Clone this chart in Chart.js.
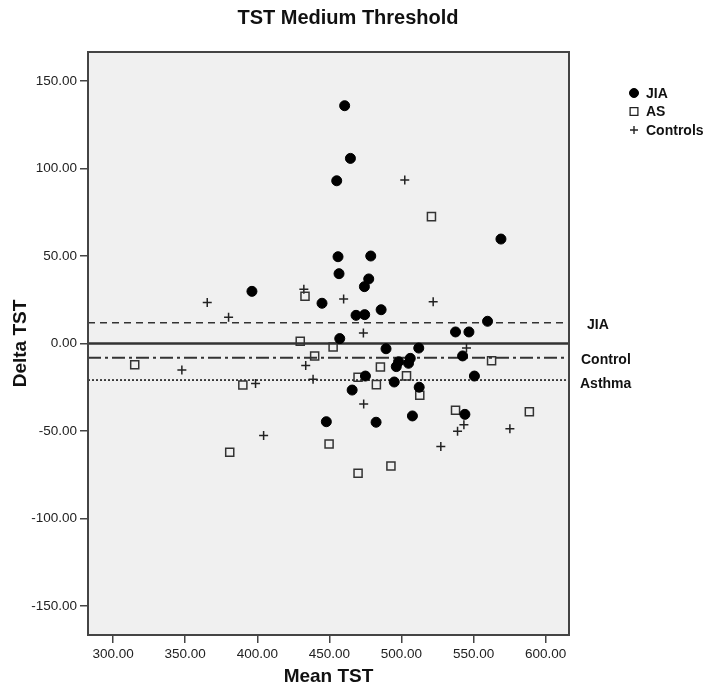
<!DOCTYPE html>
<html>
<head>
<meta charset="utf-8">
<title>TST Medium Threshold</title>
<script src="https://cdn.jsdelivr.net/npm/chart.js@4/dist/chart.umd.min.js"></script>
<style>
  html, body { margin: 0; padding: 0; background: #fff; }
  #wrap { width: 713px; height: 692px; }
</style>
</head>
<body>
<div id="wrap"><canvas id="chart" width="713" height="692"></canvas></div>
<script>
// values: [mean TST, delta TST]
const jiaPoints = [
  [460.6, 135.9], [464.6, 105.8], [455.1, 93.0], [569.0, 59.7], [456.0, 49.6],
  [478.7, 50.0], [456.7, 39.9], [477.3, 36.9], [474.3, 32.5], [396.3, 29.8],
  [444.9, 23.0], [485.9, 19.3], [468.5, 16.1], [474.5, 16.5], [559.7, 12.7],
  [537.5, 6.6], [546.8, 6.6], [457.2, 2.8], [489.3, -3.0], [512.0, -2.6],
  [542.4, -7.1], [498.0, -10.4], [506.1, -8.5], [504.9, -11.3], [496.4, -13.2],
  [475.0, -18.6], [550.6, -18.6], [495.0, -22.0], [465.8, -26.6], [512.3, -25.0],
  [544.0, -40.5], [507.6, -41.4], [447.9, -44.7], [482.4, -45.0]
];
const asPoints = [
  [520.8, 72.5], [433.1, 27.0], [429.8, 1.3], [452.6, -2.0], [439.8, -7.1],
  [562.5, -9.9], [315.0, -12.1], [485.4, -13.4], [469.9, -19.3], [503.5, -18.5],
  [390.0, -23.7], [482.6, -23.5], [512.7, -29.6], [537.5, -38.2], [588.7, -39.0],
  [449.8, -57.4], [380.9, -62.2], [492.7, -70.0], [469.9, -74.2]
];
const controlPoints = [
  [502.3, 93.4], [432.3, 31.0], [459.9, 25.4], [522.0, 23.9], [365.3, 23.5],
  [380.1, 15.0], [473.6, 6.0], [545.1, -2.6], [433.6, -12.6], [347.7, -15.1],
  [438.7, -20.5], [398.8, -22.8], [473.8, -34.6], [543.3, -46.4], [538.9, -50.2],
  [575.2, -48.7], [404.4, -52.6], [527.3, -58.8]
];

const seriesNames = ['JIA', 'AS', 'Controls'];

// mean lines: zero, JIA, Control, Asthma
const refNames = ['JIA', 'Control', 'Asthma'];
const refValues = [11.9, -8.1, -20.9];
const zeroValue = 0;

const xMin = 282.6, xMax = 616.2;
const yMin = -166.6, yMax = 166.6;
const xTickValues = [300, 350, 400, 450, 500, 550, 600];
const yTickValues = [-150, -100, -50, 0, 50, 100, 150];

const FONT = '"Liberation Sans", Arial, sans-serif';

function toXY(arr) {
  return arr.map(p => ({ x: p[0], y: p[1] }));
}
function hLine(v) {
  return [{ x: xMin, y: v }, { x: xMax, y: v }];
}

const refStyles = [
  { dash: [7, 5], width: 1.6 },
  { dash: [13, 4, 3, 4], width: 2 },
  { dash: [2, 2], width: 1.8 }
];

const lineSets = refValues.map((v, i) => ({
  label: refNames[i] + ' mean',
  data: hLine(v),
  showLine: true,
  borderColor: '#333',
  borderWidth: refStyles[i].width,
  borderDash: refStyles[i].dash,
  pointRadius: 0,
  order: 10
}));
lineSets.push({
  label: 'zero',
  data: hLine(zeroValue),
  showLine: true,
  borderColor: '#333',
  borderWidth: 2.5,
  pointRadius: 0,
  order: 10
});

const pointSets = [
  {
    label: seriesNames[0],
    data: toXY(jiaPoints),
    pointStyle: 'circle',
    pointRadius: 5,
    backgroundColor: '#000',
    borderColor: '#000',
    borderWidth: 1,
    order: 1
  },
  {
    label: seriesNames[1],
    data: toXY(asPoints),
    pointStyle: 'rect',
    pointRadius: 5.7,
    backgroundColor: 'rgba(0,0,0,0)',
    borderColor: '#333',
    borderWidth: 1.5,
    order: 1
  },
  {
    label: seriesNames[2],
    data: toXY(controlPoints),
    pointStyle: 'cross',
    pointRadius: 4.5,
    borderColor: '#222',
    borderWidth: 1.5,
    order: 1
  }
];

// plot background, frame, legend, line labels and title
const decorations = {
  id: 'decorations',
  beforeDatasetsDraw(chart) {
    const { ctx, chartArea: a } = chart;
    ctx.save();
    ctx.fillStyle = '#f0f0f0';
    ctx.fillRect(a.left, a.top, a.right - a.left, a.bottom - a.top);
    ctx.restore();
  },
  afterDraw(chart) {
    const { ctx, chartArea: a } = chart;
    const yScale = chart.scales.y;
    ctx.save();
    ctx.strokeStyle = '#444';
    ctx.lineWidth = 2;
    ctx.strokeRect(a.left, a.top, a.right - a.left, a.bottom - a.top);

    // title
    ctx.fillStyle = '#111';
    ctx.font = 'bold 20px ' + FONT;
    ctx.textAlign = 'center';
    ctx.textBaseline = 'middle';
    ctx.fillText('TST Medium Threshold', 348, 18);

    // legend
    ctx.font = 'bold 14px ' + FONT;
    ctx.textAlign = 'left';
    const legendStyles = [
      { pointStyle: 'circle', radius: 4.5, fill: '#000', stroke: '#000', borderWidth: 1 },
      { pointStyle: 'rect', radius: 5.5, fill: 'rgba(0,0,0,0)', stroke: '#222', borderWidth: 1.3 },
      { pointStyle: 'cross', radius: 4, fill: '#000', stroke: '#222', borderWidth: 1.4 }
    ];
    seriesNames.forEach((name, i) => {
      const y = a.top + 41 + i * 18.5;
      const s = legendStyles[i];
      ctx.fillStyle = s.fill;
      ctx.strokeStyle = s.stroke;
      ctx.lineWidth = s.borderWidth;
      Chart.helpers.drawPoint(ctx, { pointStyle: s.pointStyle, radius: s.radius, rotation: 0, borderWidth: s.borderWidth }, a.right + 65, y);
      ctx.fillStyle = '#111';
      ctx.fillText(name, a.right + 77, y + 1);
    });

    // labels for the mean lines
    const labelX = [a.right + 18, a.right + 12, a.right + 11];
    const labelDy = [2, 2, 4];
    refNames.forEach((name, i) => {
      ctx.fillText(name, labelX[i], yScale.getPixelForValue(refValues[i]) + labelDy[i]);
    });
    ctx.restore();
  }
};

const ctx = document.getElementById('chart').getContext('2d');
new Chart(ctx, {
  type: 'scatter',
  data: { datasets: [...pointSets, ...lineSets] },
  options: {
    responsive: false,
    animation: false,
    events: [],
    layout: { padding: { top: 52, right: 144, bottom: 0, left: 0 } },
    plugins: {
      legend: { display: false },
      title: { display: false },
      tooltip: { enabled: false }
    },
    scales: {
      x: {
        type: 'linear',
        min: xMin,
        max: xMax,
        afterFit(scale) { scale.height = 57; },
        afterBuildTicks(scale) { scale.ticks = xTickValues.map(v => ({ value: v })); },
        border: { display: false },
        grid: { drawOnChartArea: false, drawTicks: true, tickLength: 8, color: '#444', lineWidth: 1.5 },
        ticks: {
          padding: 3,
          color: '#222',
          font: { family: FONT, size: 13.5 },
          maxRotation: 0,
          callback: v => Number(v).toFixed(2)
        },
        title: {
          display: true,
          text: 'Mean TST',
          color: '#111',
          font: { family: FONT, size: 19, weight: 'bold' },
          padding: { top: 4, bottom: 4 }
        }
      },
      y: {
        type: 'linear',
        min: yMin,
        max: yMax,
        afterFit(scale) { scale.width = 88; },
        afterBuildTicks(scale) { scale.ticks = yTickValues.map(v => ({ value: v })); },
        border: { display: false },
        grid: { drawOnChartArea: false, drawTicks: true, tickLength: 8, color: '#444', lineWidth: 1.5 },
        ticks: {
          padding: 3,
          color: '#222',
          font: { family: FONT, size: 13.5 },
          callback: v => Number(v).toFixed(2)
        },
        title: {
          display: true,
          text: 'Delta TST',
          color: '#111',
          font: { family: FONT, size: 19, weight: 'bold' },
          padding: { top: 9, bottom: 9 }
        }
      }
    }
  },
  plugins: [decorations]
});
</script>
</body>
</html>
